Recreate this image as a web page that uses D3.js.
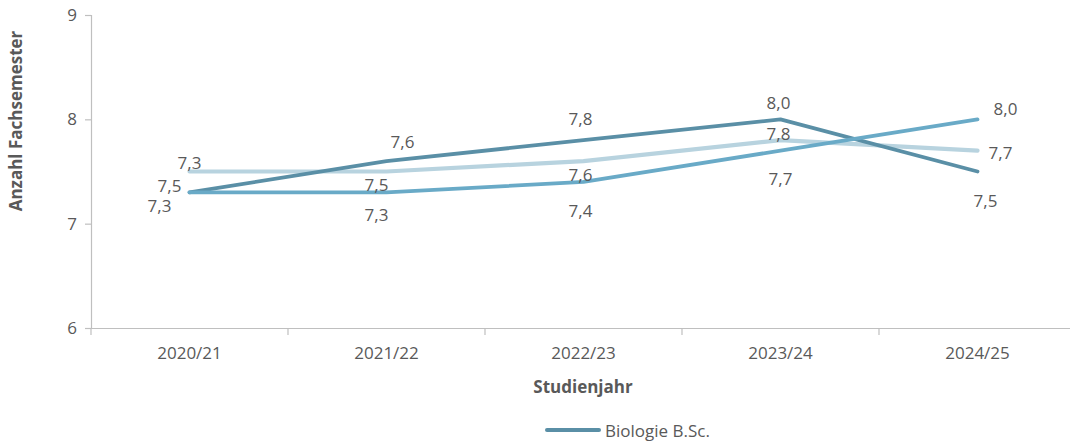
<!DOCTYPE html>
<html>
<head>
<meta charset="utf-8">
<script src="https://cdn.jsdelivr.net/npm/d3@7"></script>
<style>
  html, body { margin: 0; padding: 0; background: #fff; }
  svg { display: block; font-family: "Open Sans", "Noto Sans", sans-serif; }
</style>
</head>
<body>
<svg id="chart" width="1070" height="443"></svg>
<script>
// Studienjahre on the x axis
const categories = ["2020/21", "2021/22", "2022/23", "2023/24", "2024/25"];
const yTicks = [6, 7, 8, 9];

// Mean number of semesters per study year
const seriesBioDark = [7.3, 7.6, 7.8, 8.0, 7.5];   // Biologie B.Sc.
const seriesMid = [7.3, 7.3, 7.4, 7.7, 8.0];
const seriesLight = [7.5, 7.5, 7.6, 7.8, 7.7];

const seriesNames = ["Biologie B.Sc.", "", ""];

// Label offsets (dx, dy) relative to each point, per series
const offDark = [[-30, 13], [16, -20], [-3, -22], [-2, -17], [8, 29]];
const offMid = [[0, -30], [-10, 22], [-3, 29], [0, 28], [28, -11]];
const offLight = [[-20, 14], [-10, 13], [-3, 13], [-2, -7], [23, 2]];

const svg = d3.select("#chart");
const textColor = "#595959";
const axisColor = "#bfbfbf";
const fontSize = "17px";

const x = d3.scaleBand().domain(categories).range([91, 1076]);
const y = d3.scaleLinear().domain([6, 9]).range([328, 15]);

// Y axis
const yAxis = svg.append("g").attr("transform", "translate(91,0)")
  .call(d3.axisLeft(y).tickValues(yTicks).tickSize(6).tickPadding(8).tickFormat(d3.format("d")));
yAxis.select(".domain").attr("stroke", axisColor).attr("stroke-width", 1.2);
yAxis.selectAll(".tick line").attr("stroke", axisColor).attr("stroke-width", 1.2);
yAxis.selectAll(".tick text").attr("fill", textColor).style("font-size", fontSize)
  .style("font-family", "'Open Sans', sans-serif");

// X axis with tick marks between categories
const xAxis = svg.append("g").attr("transform", "translate(0,328)")
  .call(d3.axisBottom(x).tickSize(0).tickPadding(19));
xAxis.select(".domain").attr("stroke", axisColor).attr("stroke-width", 1.2);
xAxis.selectAll(".tick text").attr("fill", textColor).style("font-size", fontSize)
  .style("font-family", "'Open Sans', sans-serif");
const boundaries = categories.map(c => x(c)).concat([x.range()[1]]);
svg.append("g").selectAll("line").data(boundaries).join("line")
  .attr("x1", d => d).attr("x2", d => d)
  .attr("y1", 328).attr("y2", 335)
  .attr("stroke", axisColor).attr("stroke-width", 1.2);

// Axis titles
svg.append("text")
  .attr("transform", "translate(22,121) rotate(-90)")
  .attr("text-anchor", "middle")
  .attr("fill", textColor)
  .style("font-size", fontSize).style("font-weight", "bold")
  .text("Anzahl Fachsemester");

svg.append("text")
  .attr("x", 583).attr("y", 393)
  .attr("text-anchor", "middle")
  .attr("fill", textColor)
  .style("font-size", fontSize).style("font-weight", "bold")
  .text("Studienjahr");

const cx = c => x(c) + x.bandwidth() / 2;
const line = d3.line().x((d, i) => cx(categories[i])).y(d => y(d));

const series = [
  { values: seriesLight, color: "#b8d3df", width: 4.2, offs: offLight },
  { values: seriesBioDark, color: "#5a8fa6", width: 3.8, offs: offDark },
  { values: seriesMid, color: "#69aac7", width: 3.8, offs: offMid }
];

series.forEach(s => {
  svg.append("path")
    .datum(s.values)
    .attr("d", line)
    .attr("fill", "none")
    .attr("stroke", s.color)
    .attr("stroke-width", s.width)
    .attr("stroke-linecap", "round")
    .attr("stroke-linejoin", "round");
});

const fmt = v => d3.format(".1f")(v).replace(".", ",");
series.forEach(s => {
  svg.append("g").selectAll("text").data(s.values).join("text")
    .attr("x", (d, i) => cx(categories[i]) + s.offs[i][0])
    .attr("y", (d, i) => y(d) + s.offs[i][1])
    .attr("text-anchor", "middle")
    .attr("dominant-baseline", "central")
    .attr("fill", textColor)
    .style("font-size", fontSize)
    .text(d => fmt(d));
});

// Legend
const legend = svg.append("g").attr("transform", "translate(545,430)");
legend.append("line")
  .attr("x1", 2).attr("x2", 54).attr("y1", 0).attr("y2", 0)
  .attr("stroke", "#5a8fa6").attr("stroke-width", 4).attr("stroke-linecap", "round");
legend.append("text")
  .attr("x", 60).attr("y", 0)
  .attr("dominant-baseline", "central")
  .attr("fill", textColor)
  .style("font-size", fontSize)
  .text(seriesNames[0]);
</script>
</body>
</html>
